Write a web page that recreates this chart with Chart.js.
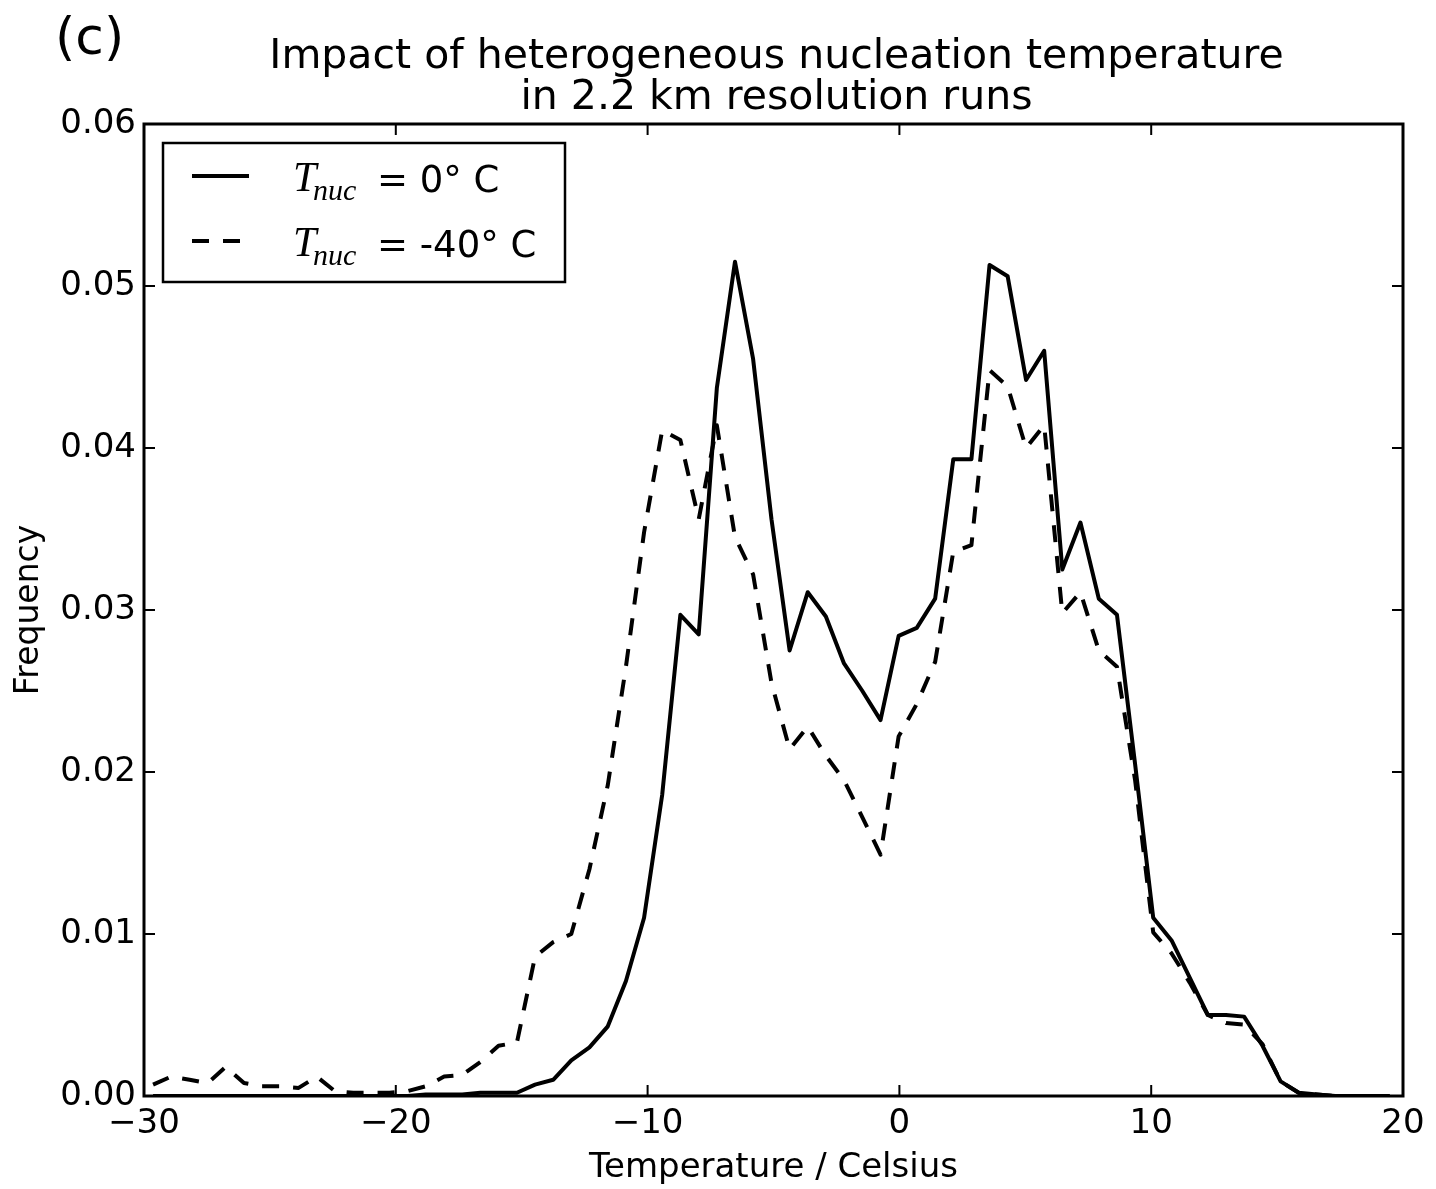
<!DOCTYPE html>
<html>
<head>
<meta charset="utf-8">
<script src="https://cdn.jsdelivr.net/npm/chart.js@4.4.0/dist/chart.umd.min.js"></script>
<style>
  html, body { margin: 0; padding: 0; background: #fff; }
  #wrap { width: 1436px; height: 1189px; }
</style>
</head>
<body>
<div id="wrap"><canvas id="c"></canvas></div>
<script>
// bin centres (deg C)
const temperature = [
  -29.64, -28.92, -28.19, -27.47, -26.75, -26.03, -25.31, -24.58, -23.86, -23.14,
  -22.42, -21.69, -20.97, -20.25, -19.53, -18.81, -18.08, -17.36, -16.64, -15.92,
  -15.19, -14.47, -13.75, -13.03, -12.31, -11.58, -10.86, -10.14, -9.42, -8.70,
  -7.97, -7.25, -6.53, -5.81, -5.08, -4.36, -3.64, -2.92, -2.20, -1.47,
  -0.75, -0.03, 0.69, 1.42, 2.14, 2.86, 3.58, 4.30, 5.03, 5.75,
  6.47, 7.19, 7.92, 8.64, 9.36, 10.08, 10.81, 11.53, 12.25, 12.97,
  13.69, 14.42, 15.14, 15.86, 16.58, 17.31, 18.03, 18.75, 19.47
];
// T_nuc = 0 C (solid)
const freqT0 = [
  0, 0, 0, 0, 0, 0, 0, 0, 0, 0,
  0, 0, 0, 0, 0, 0.0001, 0.0001, 0.0001, 0.0002, 0.0002,
  0.0002, 0.0007, 0.0010, 0.0022, 0.0030, 0.0043, 0.0071, 0.0110, 0.0186, 0.0297,
  0.0285, 0.0437, 0.0515, 0.0455, 0.0356, 0.0275, 0.0311, 0.0296, 0.0267, 0.0250,
  0.0232, 0.0284, 0.0289, 0.0307, 0.0393, 0.0393, 0.0513, 0.0506, 0.0442, 0.0460,
  0.0325, 0.0354, 0.0307, 0.0297, 0.0205, 0.0110, 0.0096, 0.0073, 0.0050, 0.0050,
  0.0049, 0.0031, 0.0009, 0.0002, 0.0001, 0, 0, 0, 0
];
// T_nuc = -40 C (dashed)
const freqT40 = [
  0.0007, 0.0012, 0.0010, 0.0008, 0.0018, 0.0008, 0.0006, 0.0006, 0.0005, 0.0012,
  0.0003, 0.0002, 0.0002, 0.0002, 0.0003, 0.0006, 0.0012, 0.0013, 0.0021, 0.0031,
  0.0033, 0.0086, 0.0095, 0.0100, 0.0140, 0.0192, 0.0265, 0.0348, 0.0411, 0.0405,
  0.0356, 0.0414, 0.0345, 0.0322, 0.0255, 0.0214, 0.0228, 0.0210, 0.0195, 0.0172,
  0.0149, 0.0222, 0.0242, 0.0268, 0.0336, 0.0340, 0.0448, 0.0438, 0.0400, 0.0414,
  0.0298, 0.0311, 0.0275, 0.0265, 0.0195, 0.0101, 0.0088, 0.0070, 0.0050, 0.0045,
  0.0044, 0.0032, 0.0009, 0.0002, 0.0001, 0, 0, 0, 0
];
const legendValues = ['= 0\u00b0 C', '= -40\u00b0 C'];
const titleLines = ['Impact of heterogeneous nucleation temperature', 'in 2.2 km resolution runs'];
const panelLabel = '(c)';

const FONT = '"DejaVu Sans", sans-serif';

function toXY(xs, ys) {
  return xs.map((x, i) => ({ x: x, y: ys[i] }));
}

// box around the plot + inward ticks on all four sides
const frameTicks = {
  id: 'frameTicks',
  afterDraw(chart) {
    const { ctx, chartArea: a, scales } = chart;
    const x = scales.x, y = scales.y;
    ctx.save();
    ctx.strokeStyle = '#000';
    ctx.lineWidth = 2;
    ctx.beginPath();
    x.ticks.forEach(t => {
      const px = x.getPixelForValue(t.value);
      ctx.moveTo(px, a.bottom); ctx.lineTo(px, a.bottom - 11);
      ctx.moveTo(px, a.top); ctx.lineTo(px, a.top + 11);
    });
    y.ticks.forEach(t => {
      const py = y.getPixelForValue(t.value);
      ctx.moveTo(a.left, py); ctx.lineTo(a.left + 11, py);
      ctx.moveTo(a.right, py); ctx.lineTo(a.right - 11, py);
    });
    ctx.stroke();
    ctx.lineWidth = 3;
    ctx.strokeRect(a.left, a.top, a.right - a.left, a.bottom - a.top);
    ctx.restore();
  }
};

// title and panel letter
const headText = {
  id: 'headText',
  afterDraw(chart) {
    const { ctx, chartArea: a } = chart;
    ctx.save();
    ctx.fillStyle = '#000';
    ctx.textBaseline = 'alphabetic';
    ctx.font = '41px ' + FONT;
    ctx.textAlign = 'center';
    const cx = (a.left + a.right) / 2 + 3;
    ctx.fillText(titleLines[0], cx, 68);
    ctx.fillText(titleLines[1], cx, 109);
    ctx.textAlign = 'left';
    ctx.font = '52px ' + FONT;
    ctx.fillText(panelLabel, 55, 54);
    ctx.restore();
  }
};

// legend with T_nuc subscript
const mathLegend = {
  id: 'mathLegend',
  afterDraw(chart) {
    const { ctx, chartArea: a } = chart;
    const bx = a.left + 19, by = a.top + 19, bw = 402, bh = 139;
    ctx.save();
    ctx.fillStyle = '#fff';
    ctx.fillRect(bx, by, bw, bh);
    ctx.strokeStyle = '#000';
    ctx.lineWidth = 2.5;
    ctx.strokeRect(bx, by, bw, bh);
    chart.data.datasets.forEach((ds, i) => {
      const rowY = by + 33 + i * 65;
      ctx.save();
      ctx.strokeStyle = ds.borderColor;
      ctx.lineWidth = ds.borderWidth;
      ctx.setLineDash(ds.borderDash || []);
      ctx.beginPath();
      ctx.moveTo(bx + 29, rowY);
      ctx.lineTo(bx + 86, rowY);
      ctx.stroke();
      ctx.restore();
      ctx.fillStyle = '#000';
      ctx.textAlign = 'left';
      ctx.textBaseline = 'alphabetic';
      ctx.font = 'italic 42px "Liberation Serif", serif';
      ctx.fillText('T', bx + 130, rowY + 15);
      ctx.font = 'italic 30px "Liberation Serif", serif';
      ctx.fillText('nuc', bx + 150, rowY + 24);
      ctx.font = '37px ' + FONT;
      ctx.fillText(legendValues[i], bx + 214, rowY + 16);
    });
    ctx.restore();
  }
};

const ctx = document.getElementById('c');
new Chart(ctx, {
  type: 'line',
  data: {
    datasets: [
      {
        label: 'T_nuc = 0\u00b0 C',
        data: toXY(temperature, freqT0),
        borderColor: '#000',
        borderWidth: 4,
        pointRadius: 0,
        tension: 0,
        fill: false,
        borderJoinStyle: 'round'
      },
      {
        label: 'T_nuc = -40\u00b0 C',
        data: toXY(temperature, freqT40),
        borderColor: '#000',
        borderWidth: 4,
        borderDash: [17, 14],
        pointRadius: 0,
        tension: 0,
        fill: false,
        borderJoinStyle: 'round'
      }
    ]
  },
  options: {
    responsive: true,
    maintainAspectRatio: false,
    animation: false,
    devicePixelRatio: 1,
    layout: { padding: { top: 124, right: 33, bottom: 0, left: 0 } },
    plugins: {
      legend: { display: false },
      title: { display: false },
      tooltip: { enabled: false }
    },
    scales: {
      x: {
        type: 'linear',
        min: -30,
        max: 20,
        grid: { display: false, drawTicks: false },
        border: { display: false },
        ticks: {
          stepSize: 10,
          color: '#000',
          padding: 8,
          maxRotation: 0,
          autoSkip: false,
          font: { family: FONT, size: 34 },
          callback: v => (v < 0 ? '\u2212' + Math.abs(v) : String(v))
        },
        title: {
          display: true,
          text: 'Temperature / Celsius',
          color: '#000',
          font: { family: FONT, size: 34 },
          padding: { top: 0, bottom: 0 }
        },
        afterFit(s) { s.height = 93; }
      },
      y: {
        min: 0,
        max: 0.06,
        grid: { display: false, drawTicks: false },
        border: { display: false },
        ticks: {
          stepSize: 0.01,
          color: '#000',
          padding: 8,
          font: { family: FONT, size: 34 },
          callback: v => v.toFixed(2)
        },
        title: {
          display: true,
          text: 'Frequency',
          color: '#000',
          font: { family: FONT, size: 33 },
          padding: { top: 10, bottom: 0 }
        },
        afterFit(s) { s.width = 144; }
      }
    }
  },
  plugins: [frameTicks, mathLegend, headText]
});
</script>
</body>
</html>
